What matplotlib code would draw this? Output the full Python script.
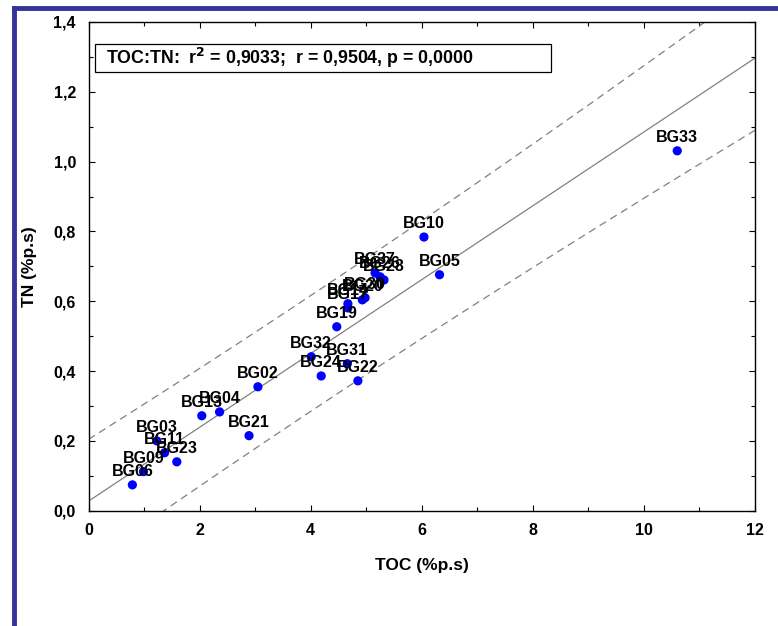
import numpy as np
import matplotlib
matplotlib.use("Agg")
import matplotlib.pyplot as plt
from matplotlib.lines import Line2D
from matplotlib.patches import Rectangle
from matplotlib.ticker import MultipleLocator, FuncFormatter

# sample names and values
samples = ["BG06", "BG09", "BG11", "BG03", "BG23", "BG13", "BG04", "BG21",
           "BG02", "BG32", "BG24", "BG31", "BG22", "BG19", "BG17", "BG14",
           "BG20", "BG30", "BG37", "BG26", "BG28", "BG10", "BG05", "BG33"]
toc = [0.79, 0.99, 1.37, 1.23, 1.59, 2.04, 2.36, 2.89,
       3.05, 4.01, 4.19, 4.66, 4.85, 4.47, 4.67, 4.67,
       4.93, 4.98, 5.16, 5.25, 5.32, 6.04, 6.32, 10.6]
tn = [0.074, 0.112, 0.166, 0.200, 0.140, 0.272, 0.283, 0.215,
      0.355, 0.441, 0.386, 0.421, 0.372, 0.527, 0.581, 0.593,
      0.604, 0.610, 0.681, 0.670, 0.661, 0.784, 0.676, 1.031]

stat_text = "TOC:TN:  r$^\\mathbf{2}$ = 0,9033;  r = 0,9504, p = 0,0000"

x = np.array(toc)
y = np.array(tn)
n = len(x)

# linear fit + 95% prediction band
slope, icpt = np.polyfit(x, y, 1)
resid = y - (icpt + slope * x)
s = np.sqrt(np.sum(resid ** 2) / (n - 2))
t95 = 2.074  # t(0.975, df=22)
xx = np.linspace(0, 12, 200)
yfit = icpt + slope * xx
half = t95 * s * np.sqrt(1 + 1 / n + (xx - x.mean()) ** 2 / np.sum((x - x.mean()) ** 2))

fam = ["Liberation Sans", "DejaVu Sans"]

fig = plt.figure(figsize=(7.78, 6.26), dpi=100)
ax = fig.add_axes([88.5 / 778, 1 - 510.7 / 626, 666.5 / 778, 488.7 / 626])

ax.plot(xx, yfit, color="#808080", lw=0.9)
ax.plot(xx, yfit + half, color="#808080", lw=0.9, ls=(0, (6, 4)))
ax.plot(xx, yfit - half, color="#808080", lw=0.9, ls=(0, (6, 4)))

ax.scatter(x, y, s=44, color="#0000ff", zorder=3, edgecolors="none")
for name, xi, yi in zip(samples, toc, tn):
    ax.annotate(name, (xi, yi), xytext=(0, 4), textcoords="offset points",
                ha="center", va="bottom", fontsize=11.5, fontweight="bold",
                family=fam, zorder=4)

ax.set_xlim(0, 12)
ax.set_ylim(0, 1.4)
ax.xaxis.set_major_locator(MultipleLocator(2))
ax.xaxis.set_minor_locator(MultipleLocator(1))
ax.yaxis.set_major_locator(MultipleLocator(0.2))
ax.yaxis.set_minor_locator(MultipleLocator(0.1))
ax.xaxis.set_major_formatter(FuncFormatter(lambda v, p: "%d" % v))
ax.yaxis.set_major_formatter(FuncFormatter(lambda v, p: ("%.1f" % v).replace(".", ",")))
ax.tick_params(which="both", direction="in", top=True, right=True, width=0.8)
ax.tick_params(which="major", length=4.5, pad=9)
ax.tick_params(which="minor", length=3)
for lab in ax.get_xticklabels() + ax.get_yticklabels():
    lab.set_fontsize(11.5)
    lab.set_fontweight("bold")
    lab.set_family(fam)
for sp in ax.spines.values():
    sp.set_linewidth(1.0)

ax.set_xlabel("TOC (%p.s)", fontsize=12.5, labelpad=14, fontweight="bold", family=fam)
ax.set_ylabel("TN (%p.s)", fontsize=12.5, labelpad=12, fontweight="bold", family=fam)

# stats box
ax.add_patch(Rectangle((0.125, 1.257), 8.2, 0.081, fc="white", ec="black",
                       lw=0.9, zorder=5))
ax.text(0.31, 1.297, stat_text, fontsize=12.8, va="center", ha="left",
        fontweight="bold", family=fam, zorder=6)

# dark blue frame on the top and left edges
fig.add_artist(Line2D([14 / 778, 1.0], [1 - 8 / 626, 1 - 8 / 626],
                      transform=fig.transFigure, color="#333399", lw=3.5))
fig.add_artist(Line2D([14 / 778, 14 / 778], [0, 1 - 8 / 626],
                      transform=fig.transFigure, color="#333399", lw=3.5))

fig.savefig("out.png", dpi=100)
